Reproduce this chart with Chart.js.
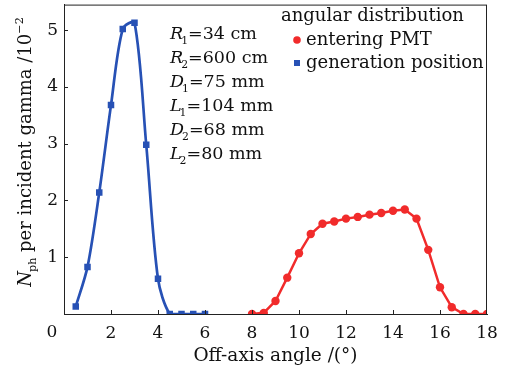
<!DOCTYPE html>
<html>
<head>
<meta charset="utf-8">
<script src="https://cdn.jsdelivr.net/npm/chart.js@4.4.1/dist/chart.umd.min.js"></script>
<style>
  html, body { margin: 0; padding: 0; background: #fff; }
</style>
</head>
<body>
<canvas id="angleChart" width="505" height="372"></canvas>
<script>
// photons per incident gamma (x10^-2) against off-axis angle (deg)
const genAngles  = [0.5, 1, 1.5, 2, 2.5, 3, 3.5, 4, 4.5, 5, 5.5, 6];
const genPhotons = [0.13, 0.83, 2.14, 3.68, 5.02, 5.13, 2.98, 0.62, 0, 0, 0, 0];
const pmtAngles  = [8, 8.5, 9, 9.5, 10, 10.5, 11, 11.5, 12, 12.5, 13, 13.5, 14, 14.5, 15, 15.5, 16, 16.5, 17, 17.5, 18];
const pmtPhotons = [0, 0.02, 0.23, 0.64, 1.07, 1.41, 1.59, 1.63, 1.68, 1.71, 1.75, 1.78, 1.82, 1.84, 1.68, 1.13, 0.47, 0.12, 0, 0, 0];
const xTicks = [0, 2, 4, 6, 8, 10, 12, 14, 16, 18];
const yTicks = [1, 2, 3, 4, 5];
const seriesNames = ['entering PMT', 'generation position'];
const legendTitle = 'angular distribution';
// geometry parameters: symbol, subscript, value
const params = [
    ['R', '1', '=34 cm'],
    ['R', '2', '=600 cm'],
    ['D', '1', '=75 mm'],
    ['L', '1', '=104 mm'],
    ['D', '2', '=68 mm'],
    ['L', '2', '=80 mm']
];

const FONT = '"DejaVu Serif", "Liberation Serif", serif';
const RED = '#f12b2b';
const BLUE = '#2751b5';

function toPoints(xs, ys) {
    return xs.map((x, i) => ({ x: x, y: ys[i] }));
}

// text made of pieces, some italic / subscript / superscript
function runWidth(ctx, runs, size) {
    let w = 0;
    runs.forEach(r => {
        const s = (r.sub || r.sup) ? size * 0.62 : size;
        ctx.font = (r.italic ? 'italic ' : '') + s + 'px ' + FONT;
        w += ctx.measureText(r.text).width + (r.kern || 0);
    });
    return w;
}
function drawRuns(ctx, x, y, runs, size) {
    runs.forEach(r => {
        const s = (r.sub || r.sup) ? size * 0.62 : size;
        ctx.font = (r.italic ? 'italic ' : '') + s + 'px ' + FONT;
        const dy = r.sub ? size * 0.3 : (r.sup ? -size * 0.42 : 0);
        ctx.fillText(r.text, x + (r.kern || 0), y + dy);
        x += ctx.measureText(r.text).width + (r.kern || 0);
    });
}

const decorations = {
    id: 'decorations',
    afterDraw(chart) {
        const ctx = chart.ctx;
        const a = chart.chartArea;
        const xs = chart.scales.x, ys = chart.scales.y;
        ctx.save();
        ctx.strokeStyle = '#222';
        ctx.lineWidth = 1;
        // frame
        ctx.strokeRect(a.left + 0.5, a.top + 0.5, a.right - a.left - 1, a.bottom - a.top);
        // inward tick marks
        ctx.beginPath();
        xTicks.slice(1, -1).forEach(v => {
            const px = Math.round(xs.getPixelForValue(v)) + 0.5;
            ctx.moveTo(px, a.bottom);
            ctx.lineTo(px, a.bottom - 4);
        });
        yTicks.forEach(v => {
            const py = Math.round(ys.getPixelForValue(v)) + 0.5;
            ctx.moveTo(a.left, py);
            ctx.lineTo(a.left + 4, py);
        });
        ctx.stroke();

        ctx.fillStyle = '#111';
        // shared origin label
        ctx.font = '17px ' + FONT;
        ctx.textAlign = 'center';
        ctx.textBaseline = 'middle';
        ctx.fillText('0', 52, 333);

        // y axis title
        ctx.textAlign = 'left';
        ctx.textBaseline = 'alphabetic';
        const yTitle = [
            { text: 'N', italic: true },
            { text: 'ph', sub: true, kern: -1 },
            { text: ' per incident gamma /10' },
            { text: '\u22122', sup: true }
        ];
        const tw = runWidth(ctx, yTitle, 18);
        ctx.translate(31, 152);
        ctx.rotate(-Math.PI / 2);
        drawRuns(ctx, -tw / 2, 0, yTitle, 18);
        ctx.setTransform(1, 0, 0, 1, 0, 0);

        // parameter block
        params.forEach((p, i) => {
            drawRuns(ctx, 170, 39 + i * 24, [
                { text: p[0], italic: true },
                { text: p[1], sub: true, kern: -2 },
                { text: p[2] }
            ], 17.5);
        });

        // legend
        ctx.font = '18px ' + FONT;
        ctx.fillText(legendTitle, 281, 21);
        ctx.fillText(seriesNames[0], 306, 45);
        ctx.fillText(seriesNames[1], 306, 68);
        ctx.fillStyle = RED;
        ctx.beginPath();
        ctx.arc(297, 40, 3.8, 0, Math.PI * 2);
        ctx.fill();
        ctx.fillStyle = BLUE;
        ctx.fillRect(294, 60, 6, 6);
        ctx.restore();
    }
};

new Chart(document.getElementById('angleChart'), {
    type: 'line',
    data: {
        datasets: [
            {
                label: seriesNames[0],
                data: toPoints(pmtAngles, pmtPhotons),
                borderColor: RED,
                backgroundColor: RED,
                borderWidth: 2.5,
                pointStyle: 'circle',
                pointRadius: 4.2,
                pointBorderWidth: 0,
                tension: 0
            },
            {
                label: seriesNames[1],
                data: toPoints(genAngles, genPhotons),
                borderColor: BLUE,
                backgroundColor: BLUE,
                borderWidth: 2.7,
                pointStyle: 'rect',
                pointRadius: 4.6,
                pointBorderWidth: 0,
                tension: 0.3
            }
        ]
    },
    options: {
        responsive: false,
        animation: false,
        devicePixelRatio: 1,
        layout: { padding: { top: 3, right: 18, left: 0, bottom: 0 } },
        plugins: {
            legend: { display: false },
            tooltip: { enabled: false }
        },
        scales: {
            x: {
                type: 'linear',
                min: 0,
                max: 18,
                afterFit: s => { s.height = 58; s.paddingLeft = 0; s.paddingRight = 0; },
                afterBuildTicks: s => { s.ticks = xTicks.map(v => ({ value: v })); },
                grid: { display: false, drawTicks: false },
                border: { display: true, color: '#222' },
                ticks: {
                    color: '#111',
                    font: { family: FONT, size: 17 },
                    padding: 9,
                    maxRotation: 0,
                    callback: v => v === 0 ? '' : String(v)
                },
                title: {
                    display: true,
                    text: 'Off-axis angle /(\u00b0)',
                    color: '#111',
                    font: { family: FONT, size: 18.5 },
                    padding: { top: 0, bottom: 5 }
                }
            },
            y: {
                type: 'linear',
                min: 0,
                max: 5.45,
                afterFit: s => { s.width = 64; s.paddingTop = 0; s.paddingBottom = 0; },
                afterBuildTicks: s => { s.ticks = yTicks.map(v => ({ value: v })); },
                grid: { display: false, drawTicks: false },
                border: { display: true, color: '#222' },
                ticks: {
                    color: '#111',
                    font: { family: FONT, size: 17 },
                    padding: 6
                }
            }
        }
    },
    plugins: [decorations]
});
</script>
</body>
</html>
